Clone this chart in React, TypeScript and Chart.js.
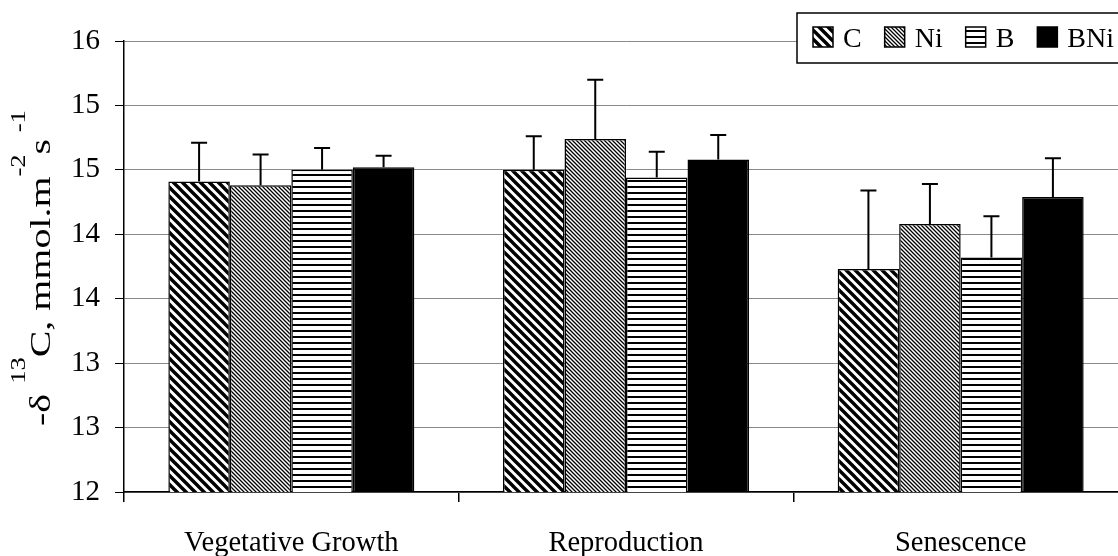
import React, { useEffect, useRef } from 'react';
import { Chart, registerables } from 'chart.js';

Chart.register(...registerables);

// ---- data ----
const categories = ['Vegetative Growth', 'Reproduction', 'Senescence'];
const seriesNames = ['C', 'Ni', 'B', 'BNi'];
const valuesC = [14.41, 14.5, 13.73];
const valuesNi = [14.38, 14.74, 14.08];
const valuesB = [14.5, 14.44, 13.82];
const valuesBNi = [14.52, 14.58, 14.29];
const errC = [0.3, 0.26, 0.61];
const errNi = [0.24, 0.46, 0.31];
const errB = [0.17, 0.2, 0.32];
const errBNi = [0.09, 0.19, 0.3];
const yTickLabels = ['12', '13', '13', '14', '14', '15', '15', '16'];
const yMin = 12;
const yMax = 15.5;
const yStep = 0.5;

const FONT = '"Liberation Serif", "Times New Roman", serif';

function diagPattern(ctx: CanvasRenderingContext2D, period: number, width: number) {
  const c = document.createElement('canvas');
  c.width = period;
  c.height = period;
  const g = c.getContext('2d')!;
  g.fillStyle = '#fff';
  g.fillRect(0, 0, period, period);
  g.strokeStyle = '#000';
  g.lineWidth = width;
  g.beginPath();
  for (let k = -1; k <= 1; k++) {
    g.moveTo(k * period - period, -period);
    g.lineTo(k * period + 2 * period, 2 * period);
  }
  g.stroke();
  return ctx.createPattern(c, 'repeat')!;
}

function horizPattern(ctx: CanvasRenderingContext2D, period: number, width: number) {
  const c = document.createElement('canvas');
  c.width = period;
  c.height = period;
  const g = c.getContext('2d')!;
  g.fillStyle = '#fff';
  g.fillRect(0, 0, period, period);
  g.fillStyle = '#000';
  g.fillRect(0, 0, period, width);
  return ctx.createPattern(c, 'repeat')!;
}

const errorBarPlugin = {
  id: 'errorBars',
  afterDatasetsDraw(chart: any) {
    const { ctx } = chart;
    const y = chart.scales.y;
    chart.data.datasets.forEach((ds: any, i: number) => {
      const meta = chart.getDatasetMeta(i);
      meta.data.forEach((bar: any, j: number) => {
        const v = ds.data[j];
        const e = ds.errors[j];
        const yTop = y.getPixelForValue(v + e);
        const yBar = y.getPixelForValue(v);
        ctx.save();
        ctx.strokeStyle = '#000';
        ctx.lineWidth = 2;
        ctx.beginPath();
        ctx.moveTo(bar.x, yBar);
        ctx.lineTo(bar.x, yTop);
        ctx.moveTo(bar.x - 8, yTop);
        ctx.lineTo(bar.x + 8, yTop);
        ctx.stroke();
        ctx.restore();
      });
    });
  },
};

const legendPlugin = {
  id: 'boxLegend',
  afterDraw(chart: any) {
    const { ctx } = chart;
    ctx.save();
    ctx.fillStyle = '#fff';
    ctx.fillRect(797, 13, 340, 50);
    ctx.strokeStyle = '#000';
    ctx.lineWidth = 1.5;
    ctx.strokeRect(797, 13, 340, 50);
    ctx.font = `28px ${FONT}`;
    ctx.textBaseline = 'alphabetic';
    ctx.textAlign = 'left';
    let x = 813;
    chart.data.datasets.forEach((ds: any) => {
      ctx.fillStyle = ds.backgroundColor;
      ctx.fillRect(x, 27, 20, 20);
      ctx.strokeStyle = '#000';
      ctx.lineWidth = 1.5;
      ctx.strokeRect(x, 27, 20, 20);
      ctx.fillStyle = '#000';
      ctx.fillText(ds.label, x + 30, 47);
      x += 30 + ctx.measureText(ds.label).width + 23;
    });
    ctx.restore();
  },
};

const yTitlePlugin = {
  id: 'yTitle',
  afterDraw(chart: any) {
    const { ctx } = chart;
    const parts = [
      { t: '-δ ', sup: false },
      { t: '13', sup: true },
      { t: 'C, mmol.m', sup: false },
      { t: '-2', sup: true },
      { t: 's', sup: false },
      { t: ' -1', sup: true },
    ];
    const base = `30px ${FONT}`;
    const small = `20px ${FONT}`;
    ctx.save();
    let total = 0;
    parts.forEach((p) => {
      ctx.font = p.sup ? small : base;
      total += ctx.measureText(p.t).width;
    });
    ctx.translate(50, 268);
    ctx.rotate(-Math.PI / 2);
    ctx.scale(1.33, 1);
    ctx.fillStyle = '#000';
    ctx.textBaseline = 'alphabetic';
    ctx.textAlign = 'left';
    let x = -total / 2;
    parts.forEach((p) => {
      ctx.font = p.sup ? small : base;
      ctx.fillText(p.t, x, p.sup ? -25 : 0);
      x += ctx.measureText(p.t).width;
    });
    ctx.restore();
  },
};

export default function App() {
  const ref = useRef<HTMLCanvasElement>(null);

  useEffect(() => {
    const canvas = ref.current!;
    const ctx = canvas.getContext('2d')!;
    const patC = diagPattern(ctx, 9, 3.4);
    const patNi = diagPattern(ctx, 4, 1.3);
    const patB = horizPattern(ctx, 6, 2);

    const seriesValues = [valuesC, valuesNi, valuesB, valuesBNi];
    const seriesErrors = [errC, errNi, errB, errBNi];
    const fills: any[] = [patC, patNi, patB, '#000'];

    const chart = new Chart(ctx, {
      type: 'bar',
      data: {
        labels: categories,
        datasets: seriesNames.map((name, i) => ({
          label: name,
          data: seriesValues[i],
          errors: seriesErrors[i],
          backgroundColor: fills[i],
          borderColor: '#000',
          borderWidth: 1.5,
          barPercentage: 1,
          categoryPercentage: 0.735,
        })) as any,
      },
      options: {
        responsive: false,
        animation: false,
        layout: { padding: { top: 41, left: 0, right: 0, bottom: 0 } },
        plugins: {
          legend: { display: false },
          tooltip: { enabled: false },
          title: { display: false },
        },
        scales: {
          x: {
            type: 'category',
            grid: {
              offset: true,
              drawOnChartArea: false,
              tickLength: 10,
              color: '#000',
              tickColor: '#000',
              lineWidth: 1.5,
            },
            border: { color: '#000', width: 1.5 },
            ticks: {
              color: '#000',
              font: { family: FONT, size: 28.5 },
              padding: 24,
              maxRotation: 0,
              autoSkip: false,
            },
            afterFit: (scale: any) => {
              scale.height = 64;
            },
          },
          y: {
            min: yMin,
            max: yMax,
            grid: {
              color: '#8a8a8a',
              lineWidth: 1,
              tickLength: 9,
              tickColor: '#000',
            },
            border: { color: '#000', width: 1.5 },
            ticks: {
              stepSize: yStep,
              color: '#000',
              font: { family: FONT, size: 29 },
              padding: 15,
              callback: (_v: any, idx: number) => yTickLabels[idx],
            },
            afterFit: (scale: any) => {
              scale.width = 124;
            },
          },
        },
      },
      plugins: [errorBarPlugin, legendPlugin, yTitlePlugin],
    });
    return () => chart.destroy();
  }, []);

  return (
    <div
      style={{
        position: 'absolute',
        left: 0,
        top: 0,
        width: 1118,
        height: 556,
        overflow: 'hidden',
        background: '#fff',
      }}
    >
      <canvas ref={ref} width={1128} height={556} style={{ width: 1128, height: 556, display: 'block' }} />
    </div>
  );
}
